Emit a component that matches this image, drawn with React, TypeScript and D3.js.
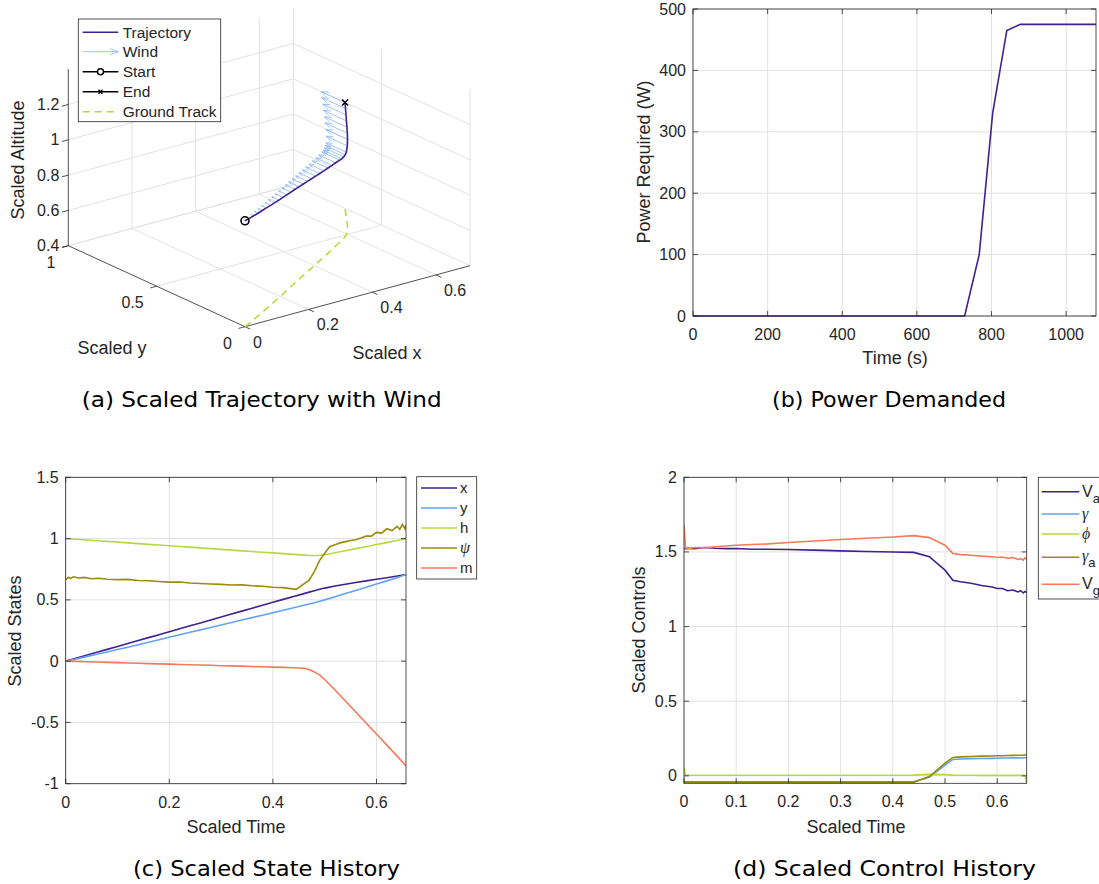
import React from 'react';
import * as d3 from 'd3';

// ---------- data ----------
// state history samples (scaled time)
const stateT = [0, 0.02, 0.04, 0.06, 0.08, 0.10, 0.12, 0.14, 0.16, 0.18, 0.20, 0.22, 0.24, 0.26, 0.28, 0.30, 0.32, 0.34, 0.36, 0.38, 0.40, 0.42, 0.44, 0.46, 0.47, 0.48, 0.49, 0.50, 0.52, 0.54, 0.56, 0.58, 0.60, 0.62, 0.64, 0.657];
const stateX = [0, 0.024, 0.048, 0.072, 0.096, 0.12, 0.144, 0.168, 0.192, 0.216, 0.24, 0.264, 0.288, 0.312, 0.336, 0.36, 0.384, 0.408, 0.432, 0.456, 0.48, 0.504, 0.527, 0.551, 0.563, 0.575, 0.586, 0.596, 0.613, 0.628, 0.642, 0.655, 0.668, 0.681, 0.694, 0.707];
const stateY = [0, 0.018, 0.037, 0.056, 0.075, 0.095, 0.114, 0.134, 0.154, 0.174, 0.195, 0.215, 0.235, 0.255, 0.275, 0.295, 0.315, 0.335, 0.355, 0.375, 0.395, 0.415, 0.436, 0.456, 0.466, 0.477, 0.488, 0.5, 0.525, 0.551, 0.577, 0.603, 0.629, 0.655, 0.681, 0.707];
const stateH = [1.0, 0.994, 0.988, 0.982, 0.977, 0.971, 0.965, 0.959, 0.953, 0.947, 0.941, 0.935, 0.93, 0.924, 0.918, 0.912, 0.906, 0.9, 0.894, 0.888, 0.883, 0.877, 0.871, 0.865, 0.862, 0.862, 0.864, 0.868, 0.884, 0.901, 0.918, 0.934, 0.951, 0.967, 0.984, 1.0];
const stateM = [0, -0.002, -0.005, -0.007, -0.01, -0.012, -0.015, -0.017, -0.02, -0.022, -0.024, -0.027, -0.029, -0.032, -0.034, -0.037, -0.039, -0.041, -0.044, -0.046, -0.049, -0.051, -0.054, -0.058, -0.068, -0.088, -0.112, -0.15, -0.235, -0.325, -0.415, -0.505, -0.595, -0.685, -0.775, -0.855];
// wind (along +y) at each state sample
const windV = [0.008, 0.012, 0.016, 0.02, 0.024, 0.028, 0.032, 0.036, 0.04, 0.044, 0.048, 0.052, 0.056, 0.06, 0.064, 0.068, 0.072, 0.076, 0.08, 0.084, 0.088, 0.092, 0.097, 0.102, 0.106, 0.11, 0.113, 0.116, 0.12, 0.123, 0.126, 0.128, 0.13, 0.132, 0.134, 0.135];

// heading has its own, noisier samples
const psiT = [0, 0.005, 0.01, 0.015, 0.025, 0.035, 0.05, 0.065, 0.08, 0.1, 0.12, 0.14, 0.16, 0.18, 0.2, 0.22, 0.24, 0.26, 0.28, 0.3, 0.32, 0.34, 0.36, 0.38, 0.4, 0.42, 0.445, 0.47, 0.48, 0.49, 0.5, 0.51, 0.52, 0.53, 0.54, 0.55, 0.56, 0.57, 0.58, 0.59, 0.6, 0.61, 0.62, 0.63, 0.64, 0.645, 0.65, 0.655, 0.657];
const psi = [0.662, 0.685, 0.675, 0.688, 0.678, 0.683, 0.672, 0.676, 0.668, 0.665, 0.667, 0.658, 0.656, 0.65, 0.645, 0.646, 0.638, 0.634, 0.63, 0.626, 0.621, 0.622, 0.615, 0.611, 0.603, 0.6, 0.586, 0.66, 0.73, 0.82, 0.88, 0.935, 0.95, 0.965, 0.975, 0.985, 0.99, 1.005, 1.02, 1.02, 1.05, 1.045, 1.08, 1.065, 1.1, 1.075, 1.115, 1.08, 1.11];

// control history
const ctrlT = [0, 0.003, 0.02, 0.04, 0.06, 0.08, 0.1, 0.13, 0.16, 0.2, 0.25, 0.3, 0.35, 0.4, 0.44, 0.47, 0.5, 0.515, 0.53, 0.55, 0.57, 0.59, 0.6, 0.61, 0.62, 0.63, 0.64, 0.645, 0.65, 0.653, 0.6565];
const ctrlVa = [1.52, 1.525, 1.522, 1.53, 1.525, 1.522, 1.523, 1.518, 1.518, 1.516, 1.512, 1.507, 1.503, 1.5, 1.497, 1.468, 1.378, 1.31, 1.3, 1.29, 1.275, 1.265, 1.255, 1.255, 1.24, 1.245, 1.232, 1.24, 1.225, 1.235, 1.228];
const ctrlGamma = [-0.04, -0.04, -0.04, -0.04, -0.04, -0.04, -0.04, -0.04, -0.04, -0.04, -0.04, -0.04, -0.04, -0.04, -0.04, -0.01, 0.072, 0.11, 0.113, 0.115, 0.116, 0.117, 0.118, 0.119, 0.119, 0.12, 0.12, 0.12, 0.121, 0.121, 0.121];
const ctrlPhi = [0.055, 0.005, 0.004, 0.004, 0.004, 0.004, 0.004, 0.004, 0.004, 0.004, 0.004, 0.004, 0.004, 0.004, 0.005, 0.01, 0.008, 0.005, 0.004, 0.004, 0.003, 0.003, 0.004, 0.003, 0.003, 0.004, 0.003, 0.003, 0.004, 0.003, -0.05];
const ctrlGammaA = [-0.042, -0.042, -0.042, -0.042, -0.042, -0.042, -0.042, -0.042, -0.042, -0.042, -0.042, -0.042, -0.042, -0.042, -0.042, -0.005, 0.085, 0.123, 0.127, 0.13, 0.132, 0.133, 0.135, 0.135, 0.136, 0.137, 0.138, 0.138, 0.139, 0.14, 0.14];
const ctrlVg = [1.68, 1.52, 1.53, 1.528, 1.535, 1.54, 1.545, 1.55, 1.554, 1.563, 1.573, 1.583, 1.592, 1.6, 1.609, 1.596, 1.545, 1.49, 1.482, 1.478, 1.472, 1.468, 1.463, 1.466, 1.458, 1.462, 1.45, 1.455, 1.445, 1.46, 1.452];

// power demanded
const powerT = [0, 728, 767, 803, 841, 877, 1080];
const powerW = [0, 0, 100, 330, 465, 475, 475];

// tick values
const powerXTicks = [0, 200, 400, 600, 800, 1000];
const powerYTicks = [0, 100, 200, 300, 400, 500];
const stateXTicks = [0, 0.2, 0.4, 0.6];
const stateYTicks = [-1, -0.5, 0, 0.5, 1, 1.5];
const ctrlXTicks = [0, 0.1, 0.2, 0.3, 0.4, 0.5, 0.6];
const ctrlYTicks = [0, 0.5, 1, 1.5, 2];
const tX3Ticks = [0, 0.2, 0.4, 0.6];
const tY3Ticks = [0, 0.5, 1];
const tZ3Ticks = [0.4, 0.6, 0.8, 1, 1.2];

// ---------- style ----------
const FONT = "'Liberation Sans', Arial, Helvetica, sans-serif";
const CAP_FONT = "'DejaVu Sans', 'Open Sans', sans-serif";
const GREEK = "'Liberation Serif', 'DejaVu Serif', serif";
const AX = '#262626';
const GRID = '#e2e2e2';
const C_PURPLE = '#40218f';
const C_BLUE = '#64a2ef';
const C_GREEN = '#b6da3e';
const C_OLIVE = '#9a8b08';
const C_ORANGE = '#f47a5a';
const C_WIND = '#86b6f2';

const fmt = (v: number) => String(+v.toFixed(3));

type FrameProps = {
  x: d3.ScaleLinear<number, number>;
  y: d3.ScaleLinear<number, number>;
  xTicks: number[];
  yTicks: number[];
};

function Grid({ x, y, xTicks, yTicks }: FrameProps) {
  const [x0, x1] = x.range();
  const [y0, y1] = y.range();
  return (
    <g>
      {xTicks.map((t) => (
        <line key={'gx' + t} x1={x(t)} x2={x(t)} y1={y0} y2={y1} stroke={GRID} strokeWidth={1} />
      ))}
      {yTicks.map((t) => (
        <line key={'gy' + t} x1={x0} x2={x1} y1={y(t)} y2={y(t)} stroke={GRID} strokeWidth={1} />
      ))}
    </g>
  );
}

function Frame({ x, y, xTicks, yTicks }: FrameProps) {
  const [x0, x1] = x.range();
  const [y0, y1] = y.range();
  const tl = 5;
  return (
    <g>
      <rect x={x0} y={y1} width={x1 - x0} height={y0 - y1} fill="none" stroke={AX} strokeWidth={0.8} />
      {xTicks.map((t) => (
        <g key={'tx' + t}>
          <line x1={x(t)} x2={x(t)} y1={y0} y2={y0 - tl} stroke={AX} strokeWidth={0.8} />
          <line x1={x(t)} x2={x(t)} y1={y1} y2={y1 + tl} stroke={AX} strokeWidth={0.8} />
          <text x={x(t)} y={y0 + 24} textAnchor="middle" fontSize={16} fill={AX} fontFamily={FONT}>
            {fmt(t)}
          </text>
        </g>
      ))}
      {yTicks.map((t) => (
        <g key={'ty' + t}>
          <line x1={x0} x2={x0 + tl} y1={y(t)} y2={y(t)} stroke={AX} strokeWidth={0.8} />
          <line x1={x1} x2={x1 - tl} y1={y(t)} y2={y(t)} stroke={AX} strokeWidth={0.8} />
          <text x={x0 - 7} y={y(t) + 5.5} textAnchor="end" fontSize={16} fill={AX} fontFamily={FONT}>
            {fmt(t)}
          </text>
        </g>
      ))}
    </g>
  );
}

function series(tArr: number[], vArr: number[]) {
  return tArr.map((t, i) => [t, vArr[i]] as [number, number]);
}

// ---------- panel (b): power ----------
function PowerPanel() {
  const x = d3.scaleLinear().domain([0, 1080]).range([693, 1096]);
  const y = d3.scaleLinear().domain([0, 500]).range([316, 9]);
  const line = d3.line<[number, number]>().x((d) => x(d[0])).y((d) => y(d[1]));
  return (
    <g>
      <Grid x={x} y={y} xTicks={powerXTicks} yTicks={powerYTicks} />
      <path d={line(series(powerT, powerW)) || ''} fill="none" stroke={C_PURPLE} strokeWidth={1.6} />
      <Frame x={x} y={y} xTicks={powerXTicks} yTicks={powerYTicks} />
      <text x={895} y={364} textAnchor="middle" fontSize={18} fill={AX} fontFamily={FONT}>Time (s)</text>
      <text transform="translate(650,162) rotate(-90)" textAnchor="middle" fontSize={18} fill={AX} fontFamily={FONT}>
        Power Required (W)
      </text>
    </g>
  );
}

// ---------- panel (c): states ----------
function StatePanel() {
  const x = d3.scaleLinear().domain([0, 0.657]).range([65.7, 406]);
  const y = d3.scaleLinear().domain([-1, 1.5]).range([783.7, 477.3]);
  const line = d3.line<[number, number]>().x((d) => x(d[0])).y((d) => y(d[1]));
  const lines = [
    { name: 'x', c: C_PURPLE, d: series(stateT, stateX) },
    { name: 'y', c: C_BLUE, d: series(stateT, stateY) },
    { name: 'h', c: C_GREEN, d: series(stateT, stateH) },
    { name: 'psi', c: C_OLIVE, d: series(psiT, psi) },
    { name: 'm', c: C_ORANGE, d: series(stateT, stateM) },
  ];
  const legY = [488, 508, 528, 548, 568];
  return (
    <g>
      <defs>
        <clipPath id="clipC"><rect x={65.7} y={477.3} width={340.3} height={306.4} /></clipPath>
      </defs>
      <Grid x={x} y={y} xTicks={stateXTicks} yTicks={stateYTicks} />
      <g clipPath="url(#clipC)">
        {lines.map((l) => (
          <path key={l.name} d={line(l.d) || ''} fill="none" stroke={l.c} strokeWidth={1.6} />
        ))}
      </g>
      <Frame x={x} y={y} xTicks={stateXTicks} yTicks={stateYTicks} />
      <text x={236} y={833} textAnchor="middle" fontSize={18} fill={AX} fontFamily={FONT}>Scaled Time</text>
      <text transform="translate(21,631) rotate(-90)" textAnchor="middle" fontSize={18} fill={AX} fontFamily={FONT}>
        Scaled States
      </text>
      {/* legend */}
      <rect x={416.7} y={476.7} width={60} height={102.3} fill="#fff" stroke={AX} strokeWidth={0.8} />
      {lines.map((l, i) => (
        <g key={'lg' + l.name}>
          <line x1={421} x2={457} y1={legY[i]} y2={legY[i]} stroke={l.c} strokeWidth={1.6} />
          {l.name === 'psi' ? (
            <text x={460} y={legY[i] + 5} fontSize={16} fontStyle="italic" fill={AX} fontFamily={GREEK}>ψ</text>
          ) : (
            <text x={460} y={legY[i] + 5} fontSize={15} fill={AX} fontFamily={FONT}>{l.name}</text>
          )}
        </g>
      ))}
    </g>
  );
}

// ---------- panel (d): controls ----------
function ControlPanel() {
  const x = d3.scaleLinear().domain([0, 0.6565]).range([684, 1026.7]);
  const y = d3.scaleLinear().domain([-0.05, 2]).range([783.3, 477.3]);
  const line = d3.line<[number, number]>().x((d) => x(d[0])).y((d) => y(d[1]));
  const lines = [
    { name: 'Va', c: C_PURPLE, d: series(ctrlT, ctrlVa) },
    { name: 'gamma', c: C_BLUE, d: series(ctrlT, ctrlGamma) },
    { name: 'phi', c: C_GREEN, d: series(ctrlT, ctrlPhi) },
    { name: 'gammaA', c: C_OLIVE, d: series(ctrlT, ctrlGammaA) },
    { name: 'Vg', c: C_ORANGE, d: series(ctrlT, ctrlVg) },
  ];
  const legY = [491.7, 514, 534, 557.3, 584.3];
  const label = (name: string, yy: number) => {
    const tx = 1082;
    if (name === 'Va' || name === 'Vg')
      return (
        <text x={tx} y={yy + 5} fontSize={16} fill={AX} fontFamily={FONT}>
          V<tspan dy={6} fontSize={13}>{name === 'Va' ? 'a' : 'g'}</tspan>
        </text>
      );
    if (name === 'gammaA')
      return (
        <text x={tx} y={yy + 4} fontSize={16} fill={AX} fontFamily={GREEK} fontStyle="italic">
          γ<tspan dy={6} fontSize={13} fontStyle="normal" fontFamily={FONT}>a</tspan>
        </text>
      );
    return (
      <text x={tx} y={yy + 5} fontSize={16} fill={AX} fontFamily={GREEK} fontStyle="italic">
        {name === 'gamma' ? 'γ' : 'ϕ'}
      </text>
    );
  };
  return (
    <g>
      <defs>
        <clipPath id="clipD"><rect x={684} y={477.3} width={342.7} height={306} /></clipPath>
      </defs>
      <Grid x={x} y={y} xTicks={ctrlXTicks} yTicks={ctrlYTicks} />
      <g clipPath="url(#clipD)">
        {lines.map((l) => (
          <path key={l.name} d={line(l.d) || ''} fill="none" stroke={l.c} strokeWidth={1.6} />
        ))}
      </g>
      <Frame x={x} y={y} xTicks={ctrlXTicks} yTicks={ctrlYTicks} />
      <text x={856} y={833} textAnchor="middle" fontSize={18} fill={AX} fontFamily={FONT}>Scaled Time</text>
      <text transform="translate(645,630) rotate(-90)" textAnchor="middle" fontSize={18} fill={AX} fontFamily={FONT}>
        Scaled Controls
      </text>
      <rect x={1038.3} y={477.3} width={80} height={121.7} fill="#fff" stroke={AX} strokeWidth={0.8} />
      {lines.map((l, i) => (
        <g key={'lg' + l.name}>
          <line x1={1041.7} x2={1079.3} y1={legY[i]} y2={legY[i]} stroke={l.c} strokeWidth={1.6} />
          {label(l.name, legY[i])}
        </g>
      ))}
    </g>
  );
}

// ---------- panel (a): 3-D trajectory ----------
function TrajectoryPanel() {
  // normalised axis scales, combined into an orthographic view
  const sx = d3.scaleLinear().domain([0, 0.707]).range([0, 1]);
  const sy = d3.scaleLinear().domain([0, 1]).range([0, 1]);
  const sz = d3.scaleLinear().domain([0.4, 1.4]).range([0, 1]);
  const O = [245, 326.7];
  const EX = [225, -61];
  const EY = [-176.7, -81];
  const EZ = [0, -176.5];
  const P = (xv: number, yv: number, zv: number): [number, number] => {
    const a = sx(xv), b = sy(yv), c = sz(zv);
    return [O[0] + a * EX[0] + b * EY[0] + c * EZ[0], O[1] + a * EX[1] + b * EY[1] + c * EZ[1]];
  };
  const seg = (p: [number, number], q: [number, number], stroke: string, w: number, key: string) => (
    <line key={key} x1={p[0]} y1={p[1]} x2={q[0]} y2={q[1]} stroke={stroke} strokeWidth={w} />
  );
  const X1 = 0.707, Y1 = 1, Z0 = 0.4, Z1 = 1.4;
  const grid: JSX.Element[] = [];
  // floor
  tX3Ticks.filter((v) => v > 0).forEach((v) => grid.push(seg(P(v, 0, Z0), P(v, Y1, Z0), GRID, 1, 'fx' + v)));
  tY3Ticks.filter((v) => v > 0).forEach((v) => grid.push(seg(P(0, v, Z0), P(X1, v, Z0), GRID, 1, 'fy' + v)));
  // back wall y = 1
  tX3Ticks.filter((v) => v > 0).forEach((v) => grid.push(seg(P(v, Y1, Z0), P(v, Y1, Z1), GRID, 1, 'wx' + v)));
  tZ3Ticks.forEach((v) => grid.push(seg(P(0, Y1, v), P(X1, Y1, v), GRID, 1, 'wz' + v)));
  // side wall x = max
  tY3Ticks.forEach((v) => grid.push(seg(P(X1, v, Z0), P(X1, v, Z1), GRID, 1, 'sy' + v)));
  tZ3Ticks.forEach((v) => grid.push(seg(P(X1, 0, v), P(X1, Y1, v), GRID, 1, 'sz' + v)));

  const line = d3.line<[number, number]>();
  const traj = stateT.map((_, i) => P(stateX[i], stateY[i], stateH[i]));
  const ground = stateT.map((_, i) => P(stateX[i], stateY[i], Z0));

  // wind quiver
  const arrows = stateT.map((_, i) => {
    const a = P(stateX[i], stateY[i], stateH[i]);
    const b = P(stateX[i], stateY[i] + windV[i], stateH[i]);
    const dx = b[0] - a[0], dy = b[1] - a[1];
    const len = Math.hypot(dx, dy);
    const ux = dx / len, uy = dy / len;
    const hl = len * 0.3, ang = 0.35;
    const h1: [number, number] = [b[0] - hl * (ux * Math.cos(ang) - uy * Math.sin(ang)), b[1] - hl * (uy * Math.cos(ang) + ux * Math.sin(ang))];
    const h2: [number, number] = [b[0] - hl * (ux * Math.cos(-ang) - uy * Math.sin(-ang)), b[1] - hl * (uy * Math.cos(-ang) + ux * Math.sin(-ang))];
    return { a, b, h1, h2 };
  });

  const start = traj[0];
  const end = traj[traj.length - 1];
  const tickLen = 0.02;
  return (
    <g>
      {grid}
      {/* axes */}
      {seg(P(0, 0, Z0), P(X1, 0, Z0), AX, 0.8, 'axx')}
      {seg(P(0, 0, Z0), P(0, Y1, Z0), AX, 0.8, 'axy')}
      {seg(P(0, Y1, Z0), P(0, Y1, Z1), AX, 0.8, 'axz')}
      {tX3Ticks.map((v) => {
        const p = P(v, 0, Z0);
        const q = P(v, -tickLen * 1.5, Z0);
        return (
          <g key={'x3' + v}>
            {seg(p, q, AX, 0.8, 'x3t' + v)}
            <text x={p[0] + 8} y={p[1] + 21} fontSize={16} fill={AX} fontFamily={FONT}>{fmt(v)}</text>
          </g>
        );
      })}
      {tY3Ticks.map((v) => {
        const p = P(0, v, Z0);
        const q = P(-tickLen, v, Z0);
        return (
          <g key={'y3' + v}>
            {seg(p, q, AX, 0.8, 'y3t' + v)}
            <text x={p[0] - 13} y={p[1] + 22} textAnchor="end" fontSize={16} fill={AX} fontFamily={FONT}>{fmt(v)}</text>
          </g>
        );
      })}
      {tZ3Ticks.map((v) => {
        const p = P(0, Y1, v);
        const q = P(-tickLen, Y1, v);
        return (
          <g key={'z3' + v}>
            {seg(p, q, AX, 0.8, 'z3t' + v)}
            <text x={p[0] - 9} y={p[1] + 5.5} textAnchor="end" fontSize={16} fill={AX} fontFamily={FONT}>{fmt(v)}</text>
          </g>
        );
      })}
      <text transform="translate(24,160) rotate(-90)" textAnchor="middle" fontSize={18} fill={AX} fontFamily={FONT}>
        Scaled Altitude
      </text>
      <text x={112} y={354} textAnchor="middle" fontSize={18} fill={AX} fontFamily={FONT}>Scaled y</text>
      <text x={387} y={359} textAnchor="middle" fontSize={18} fill={AX} fontFamily={FONT}>Scaled x</text>

      {/* ground track */}
      <path d={line(ground) || ''} fill="none" stroke={C_GREEN} strokeWidth={1.6} strokeDasharray="7,5" />
      {/* wind */}
      {arrows.map((w, i) => (
        <g key={'w' + i} stroke={C_WIND} strokeWidth={0.8} fill="none">
          <line x1={w.a[0]} y1={w.a[1]} x2={w.b[0]} y2={w.b[1]} />
          <polyline points={`${w.h1[0]},${w.h1[1]} ${w.b[0]},${w.b[1]} ${w.h2[0]},${w.h2[1]}`} />
        </g>
      ))}
      {/* trajectory */}
      <path d={line(traj) || ''} fill="none" stroke={C_PURPLE} strokeWidth={1.6} />
      <circle cx={start[0]} cy={start[1]} r={4} fill="none" stroke="#000" strokeWidth={1.6} />
      <path d={`M${end[0] - 3},${end[1] - 3}L${end[0] + 3},${end[1] + 3}M${end[0] - 3},${end[1] + 3}L${end[0] + 3},${end[1] - 3}`} stroke="#000" strokeWidth={1.6} />

      {/* legend */}
      <rect x={78.3} y={19} width={142.4} height={102.7} fill="#fff" stroke={AX} strokeWidth={0.8} />
      <line x1={82.7} x2={118.3} y1={32.3} y2={32.3} stroke={C_PURPLE} strokeWidth={1.6} />
      <text x={122.7} y={37.5} fontSize={15.5} fill={AX} fontFamily={FONT}>Trajectory</text>
      <g stroke={C_WIND} strokeWidth={0.8} fill="none">
        <line x1={82.7} x2={118.3} y1={51.7} y2={51.7} />
        <polyline points="110,48.7 118.3,51.7 110,54.7" />
      </g>
      <text x={122.7} y={57} fontSize={15.5} fill={AX} fontFamily={FONT}>Wind</text>
      <line x1={82.7} x2={118.3} y1={71.7} y2={71.7} stroke="#000" strokeWidth={1.6} />
      <circle cx={100.5} cy={71.7} r={3} fill="#fff" stroke="#000" strokeWidth={1.5} />
      <text x={122.7} y={77} fontSize={15.5} fill={AX} fontFamily={FONT}>Start</text>
      <line x1={82.7} x2={118.3} y1={91.7} y2={91.7} stroke="#000" strokeWidth={1.6} />
      <path d="M98.5,89.7L102.5,93.7M98.5,93.7L102.5,89.7" stroke="#000" strokeWidth={1.4} />
      <text x={122.7} y={97} fontSize={15.5} fill={AX} fontFamily={FONT}>End</text>
      <line x1={82.7} x2={118.3} y1={111.7} y2={111.7} stroke={C_GREEN} strokeWidth={1.6} strokeDasharray="7,5" />
      <text x={122.7} y={117} fontSize={15.5} fill={AX} fontFamily={FONT}>Ground Track</text>
    </g>
  );
}

function Captions() {
  const items = [
    { t: '(a) Scaled Trajectory with Wind', x: 261.7, y: 407, w: 360 },
    { t: '(b) Power Demanded', x: 889, y: 407, w: 234 },
    { t: '(c) Scaled State History', x: 266.5, y: 876, w: 267 },
    { t: '(d) Scaled Control History', x: 884.5, y: 876, w: 303 },
  ];
  return (
    <g>
      {items.map((c) => (
        <text key={c.t} x={c.x - c.w / 2} y={c.y} fontSize={21} fill="#000" fontFamily={CAP_FONT}
          textLength={c.w} lengthAdjust="spacingAndGlyphs">
          {c.t}
        </text>
      ))}
    </g>
  );
}

export default function App() {
  return (
    <svg width={1099} height={884} viewBox="0 0 1099 884"
      style={{ position: 'absolute', left: 0, top: 0, background: '#fff' }}>
      <rect x={0} y={0} width={1099} height={884} fill="#fff" />
      <TrajectoryPanel />
      <PowerPanel />
      <StatePanel />
      <ControlPanel />
      <Captions />
    </svg>
  );
}
